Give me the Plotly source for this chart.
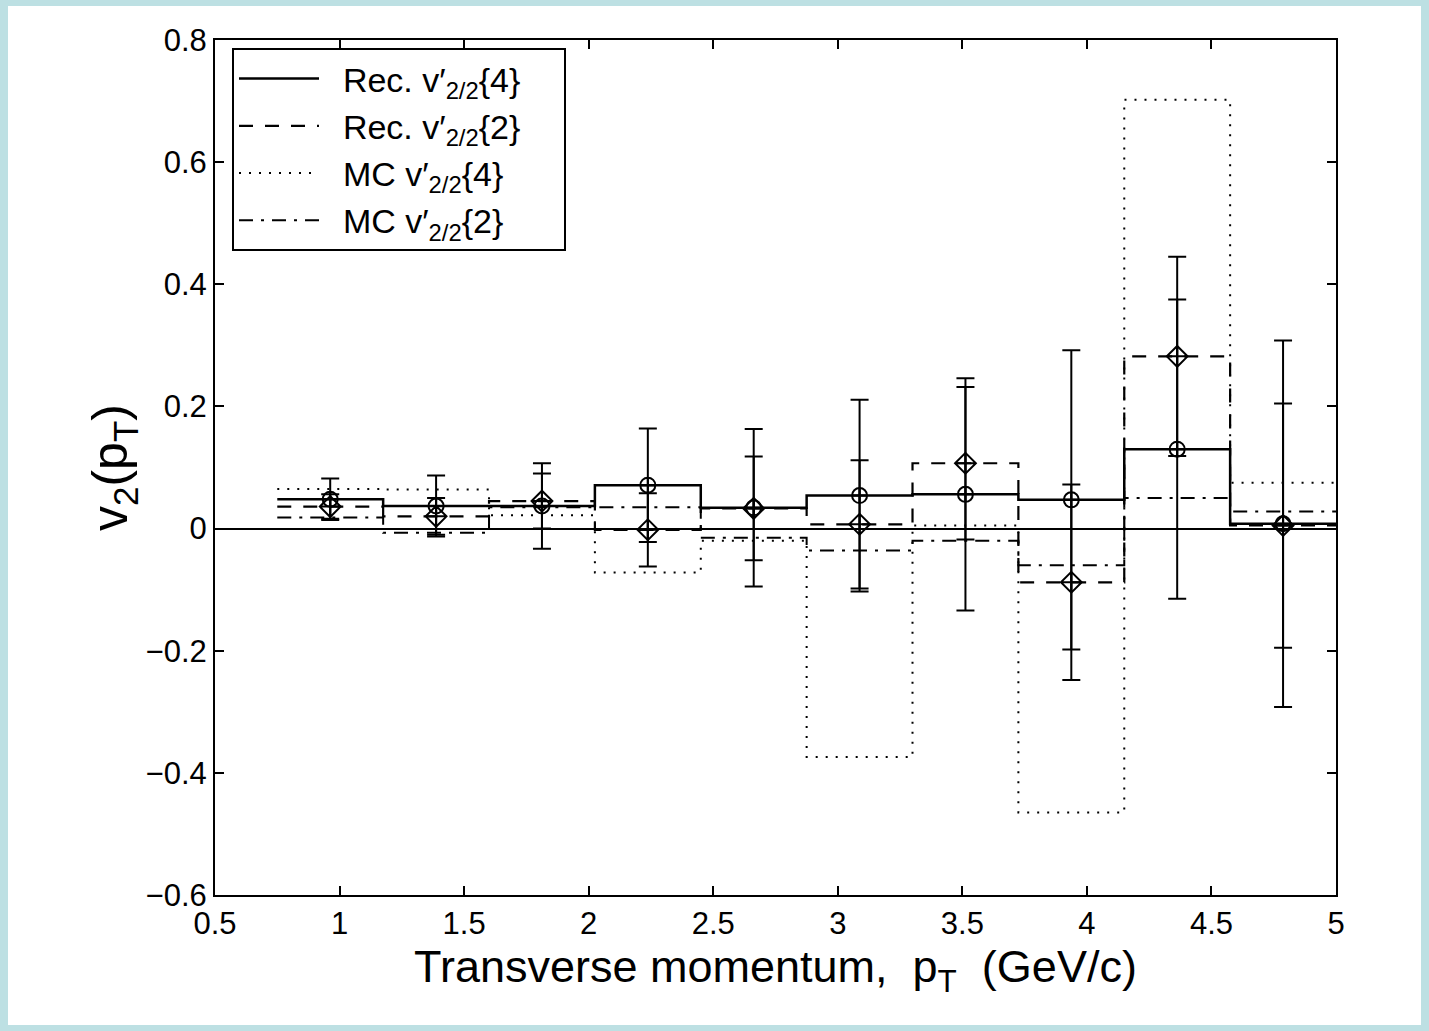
import plotly.graph_objects as go

# ---- data ----
bin_edges = [0.75, 1.175, 1.6, 2.025, 2.45, 2.875, 3.3, 3.725, 4.15, 4.575, 5.0]
bin_centers = [0.9625, 1.3875, 1.8125, 2.2375, 2.6625, 3.0875, 3.5125, 3.9375, 4.3625, 4.7875]

rec_v4 = [0.048, 0.037, 0.037, 0.071, 0.034, 0.054, 0.056, 0.047, 0.130, 0.008]
rec_v4_err = [0.034, 0.050, 0.070, 0.093, 0.129, 0.157, 0.190, 0.245, 0.245, 0.300]
rec_v2 = [0.036, 0.020, 0.045, -0.002, 0.033, 0.007, 0.107, -0.088, 0.282, 0.005]
rec_v2_err = [0.020, 0.030, 0.045, 0.060, 0.085, 0.105, 0.125, 0.160, 0.163, 0.200]
mc_v4 = [0.065, 0.064, 0.022, -0.072, -0.020, -0.374, 0.005, -0.465, 0.702, 0.075]
mc_v2 = [0.018, -0.007, 0.035, 0.035, -0.015, -0.036, -0.020, -0.060, 0.050, 0.028]

legend_names = ["Rec. v′<sub>2/2</sub>{4}", "Rec. v′<sub>2/2</sub>{2}",
                "MC v′<sub>2/2</sub>{4}", "MC v′<sub>2/2</sub>{2}"]

x_ticks = [0.5, 1, 1.5, 2, 2.5, 3, 3.5, 4, 4.5, 5]
y_ticks = [-0.6, -0.4, -0.2, 0, 0.2, 0.4, 0.6, 0.8]

FONT = "Liberation Sans, Arial, Helvetica, sans-serif"
BLACK = "black"

fig = go.Figure()

step_series = [(rec_v4, "solid", 2.5), (rec_v2, "14px,12px", 2.2),
               (mc_v4, "2px,8px", 2.0), (mc_v2, "14px,8px,3px,8px", 2.0)]
pad_l = "&nbsp;&nbsp;"
pad_r = "&nbsp;&nbsp;&nbsp;&nbsp;"
for (vals, dash, w), name in zip(step_series, legend_names):
    fig.add_trace(go.Scatter(
        x=bin_edges, y=vals + [vals[-1]], mode="lines", line_shape="hv",
        line=dict(color=BLACK, width=w, dash=dash), name=pad_l + name + pad_r))

fig.add_trace(go.Scatter(
    x=bin_centers, y=rec_v4, mode="markers", showlegend=False,
    marker=dict(symbol="circle-cross-open", size=15, color=BLACK, line=dict(width=2, color=BLACK)),
    error_y=dict(type="data", array=rec_v4_err, visible=True, color=BLACK, thickness=2, width=9)))
fig.add_trace(go.Scatter(
    x=bin_centers, y=rec_v2, mode="markers", showlegend=False,
    marker=dict(symbol="diamond-cross-open", size=16, color=BLACK, line=dict(width=2, color=BLACK)),
    error_y=dict(type="data", array=rec_v2_err, visible=True, color=BLACK, thickness=2, width=9)))

# page geometry (pixels) -> paper coordinates
W, H = 1429, 1031
L, R, T, B = 215, 93, 40, 136
pw, ph = W - L - R, H - T - B

def px(xp):
    return (xp - L) / pw

def py(yp):
    return (H - B - yp) / ph

fig.add_shape(type="rect", xref="paper", yref="paper", layer="below",
              x0=px(8), x1=px(1421), y0=py(1025), y1=py(6),
              fillcolor="white", line=dict(width=0))

axis_common = dict(showgrid=False, showline=True, linecolor=BLACK, linewidth=2,
                   mirror="ticks", ticks="inside", ticklen=9, tickwidth=1.5, tickcolor=BLACK,
                   tickfont=dict(family=FONT, size=31, color=BLACK))

fig.update_xaxes(range=[0.5, 5], tickvals=x_ticks, zeroline=False,
                 title=dict(text="Transverse momentum,&nbsp; p<sub>T</sub>&nbsp; (GeV/c)",
                            font=dict(family=FONT, size=45, color=BLACK), standoff=0),
                 **axis_common)
fig.update_yaxes(range=[-0.6, 0.8], tickvals=y_ticks, zeroline=True,
                 zerolinecolor=BLACK, zerolinewidth=1.5,
                 title=dict(text="v<sub>2</sub>(p<sub>T</sub>)",
                            font=dict(family=FONT, size=50, color=BLACK), standoff=2),
                 **axis_common)

fig.update_layout(
    width=W, height=H, autosize=False,
    margin=dict(l=L, r=R, t=T, b=B, pad=0),
    paper_bgcolor="#bde0e3", plot_bgcolor="white",
    font=dict(family=FONT, color=BLACK),
    legend=dict(x=px(232), y=py(48), xanchor="left", yanchor="top",
                bgcolor="white", bordercolor=BLACK, borderwidth=2,
                font=dict(family=FONT, size=34, color=BLACK),
                itemwidth=80, tracegroupgap=0),
)

fig.write_html("out.html", config={"displayModeBar": False},
               post_script="document.body.style.margin='0px';document.body.style.overflow='hidden';")
